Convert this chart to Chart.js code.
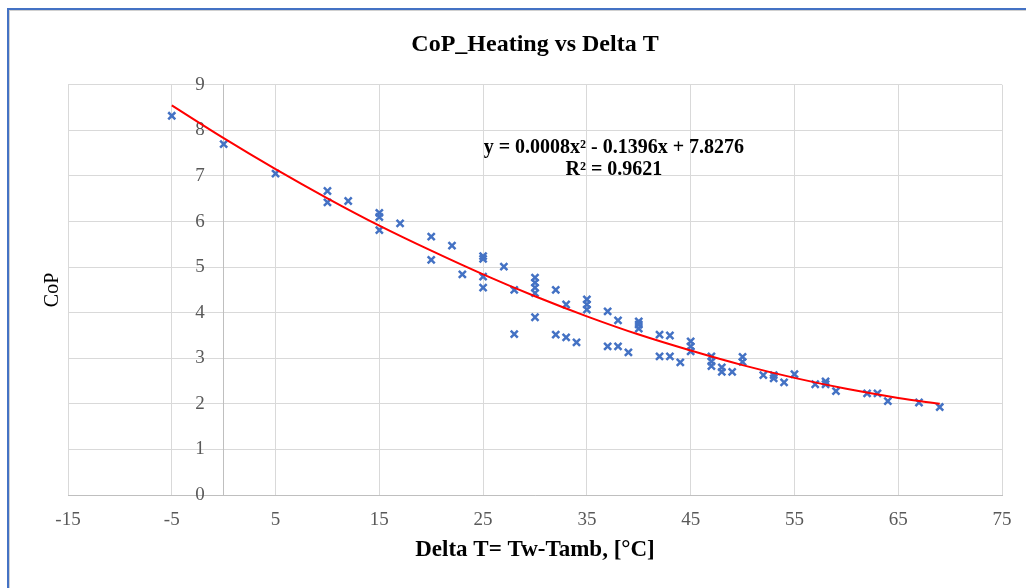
<!DOCTYPE html>
<html>
<head>
<meta charset="utf-8">
<title>CoP_Heating vs Delta T</title>
<script src="https://cdn.jsdelivr.net/npm/chart.js@4/dist/chart.umd.min.js"></script>
<style>
  html, body { margin: 0; padding: 0; background: #fff; }
  #wrap { position: relative; width: 1026px; height: 588px; }
  #frame {
    position: absolute; left: 7px; top: 8px; right: 0; bottom: 0;
    border-left: 2px solid #4472c4; border-top: 2px solid #4472c4;
    box-shadow: inset 1px 1px 0 #d0d0d0;
    pointer-events: none;
  }
  canvas { position: absolute; left: 0; top: 0; }
</style>
</head>
<body>
<div id="wrap">
  <canvas id="copChart" width="1026" height="588"></canvas>
  <div id="frame"></div>
</div>
<script>
// measured points (Delta T, CoP)
const deltaT = [
  -5, 0, 5, 10, 10, 12, 15, 15, 15, 17,
  20, 20, 22, 23, 25, 25, 25, 25, 27, 28,
  28, 30, 30, 30, 30, 30, 32, 32, 33, 33,
  34, 35, 35, 35, 37, 37, 38, 38, 39, 40,
  40, 40, 42, 42, 43, 43, 44, 45, 45, 45,
  47, 47, 47, 48, 48, 49, 50, 50, 52, 53,
  53, 54, 55, 57, 58, 58, 59, 62, 63, 64,
  67, 69
];
const cop = [
  8.32, 7.70, 7.05, 6.67, 6.42, 6.45, 6.19, 6.10, 5.81, 5.96,
  5.67, 5.16, 5.47, 4.84, 5.24, 5.18, 4.79, 4.55, 5.01, 4.50,
  3.53, 4.77, 4.66, 4.55, 4.43, 3.90, 4.50, 3.52, 4.18, 3.46,
  3.35, 4.29, 4.18, 4.07, 4.03, 3.26, 3.83, 3.26, 3.13, 3.81,
  3.74, 3.65, 3.52, 3.04, 3.50, 3.04, 2.91, 3.37, 3.26, 3.15,
  3.04, 2.93, 2.83, 2.80, 2.70, 2.70, 3.03, 2.92, 2.63, 2.63,
  2.56, 2.47, 2.65, 2.43, 2.49, 2.43, 2.28, 2.23, 2.23, 2.06,
  2.03, 1.93
];

// trendline
const trendX = [-5, 0, 5, 10, 15, 20, 25, 30, 35, 40, 45, 50, 55, 60, 65, 69];
const trendY = [8.55, 7.83, 7.15, 6.51, 5.91, 5.36, 4.84, 4.36, 3.92, 3.52, 3.17, 2.85, 2.57, 2.33, 2.13, 2.00];

const xTicks = [-15, -5, 5, 15, 25, 35, 45, 55, 65, 75];
const equationText = 'y = 0.0008x² - 0.1396x + 7.8276';
const r2Text = 'R² = 0.9621';

const serif = "'Liberation Serif', 'Times New Roman', serif";

const equationLabel = {
  id: 'equationLabel',
  afterDatasetsDraw(chart) {
    const { ctx, scales: { x, y } } = chart;
    ctx.save();
    ctx.fillStyle = '#000';
    ctx.font = 'bold 20px ' + serif;
    ctx.textAlign = 'center';
    ctx.textBaseline = 'middle';
    const cx = x.getPixelForValue(37.6);
    ctx.fillText(equationText, cx, y.getPixelForValue(7.61));
    ctx.fillText(r2Text, cx, y.getPixelForValue(7.13));
    ctx.restore();
  }
};

const points = deltaT.map((v, i) => ({ x: v, y: cop[i] }));
const trend = trendX.map((v, i) => ({ x: v, y: trendY[i] }));

new Chart(document.getElementById('copChart').getContext('2d'), {
  type: 'scatter',
  data: {
    datasets: [
      {
        label: 'Poly. (CoP)',
        data: trend,
        showLine: true,
        borderColor: '#ff0000',
        borderWidth: 2,
        pointRadius: 0,
        cubicInterpolationMode: 'monotone',
        fill: false
      },
      {
        label: 'CoP',
        data: points,
        pointStyle: 'crossRot',
        pointRadius: 5,
        borderColor: '#4472c4',
        backgroundColor: '#4472c4',
        pointBorderWidth: 2.5
      }
    ]
  },
  options: {
    responsive: false,
    animation: false,
    layout: { padding: { left: 0, right: 24, top: 0, bottom: 0 } },
    plugins: {
      legend: { display: false },
      tooltip: { enabled: false },
      title: {
        display: true,
        fullSize: false,
        text: 'CoP_Heating vs Delta T',
        color: '#000',
        font: { family: serif, size: 24, weight: 'bold' },
        padding: { top: 30, bottom: 26 }
      }
    },
    scales: {
      x: {
        type: 'linear',
        min: -15,
        max: 75,
        afterBuildTicks: axis => { axis.ticks = xTicks.map(v => ({ value: v })); },
        afterFit: axis => { axis.height = 93; },
        grid: { color: '#d9d9d9', drawTicks: false },
        border: { color: '#bfbfbf' },
        ticks: {
          color: '#595959',
          padding: 14,
          maxRotation: 0,
          font: { family: serif, size: 19 }
        },
        title: {
          display: true,
          text: 'Delta T= Tw-Tamb, [°C]',
          color: '#000',
          font: { family: serif, size: 23, weight: 'bold' },
          padding: { top: 0, bottom: 24 }
        }
      },
      y: {
        type: 'linear',
        position: { x: 0 },
        min: 0,
        max: 9,
        grid: { color: '#d9d9d9', drawTicks: false },
        border: { color: '#bfbfbf' },
        ticks: {
          stepSize: 1,
          color: '#595959',
          font: { family: serif, size: 19 },
          // labels sit left of the x=0 axis line
          callback: v => v + '\u2003'
        }
      },
      yTitle: {
        type: 'linear',
        position: 'left',
        min: 0,
        max: 9,
        afterFit: axis => { axis.width = 68; },
        grid: { display: false },
        border: { display: false },
        ticks: { display: false },
        title: {
          display: true,
          text: 'CoP',
          color: '#000',
          font: { family: serif, size: 20 },
          padding: { top: 41, bottom: 0 }
        }
      }
    }
  },
  plugins: [equationLabel]
});
</script>
</body>
</html>
